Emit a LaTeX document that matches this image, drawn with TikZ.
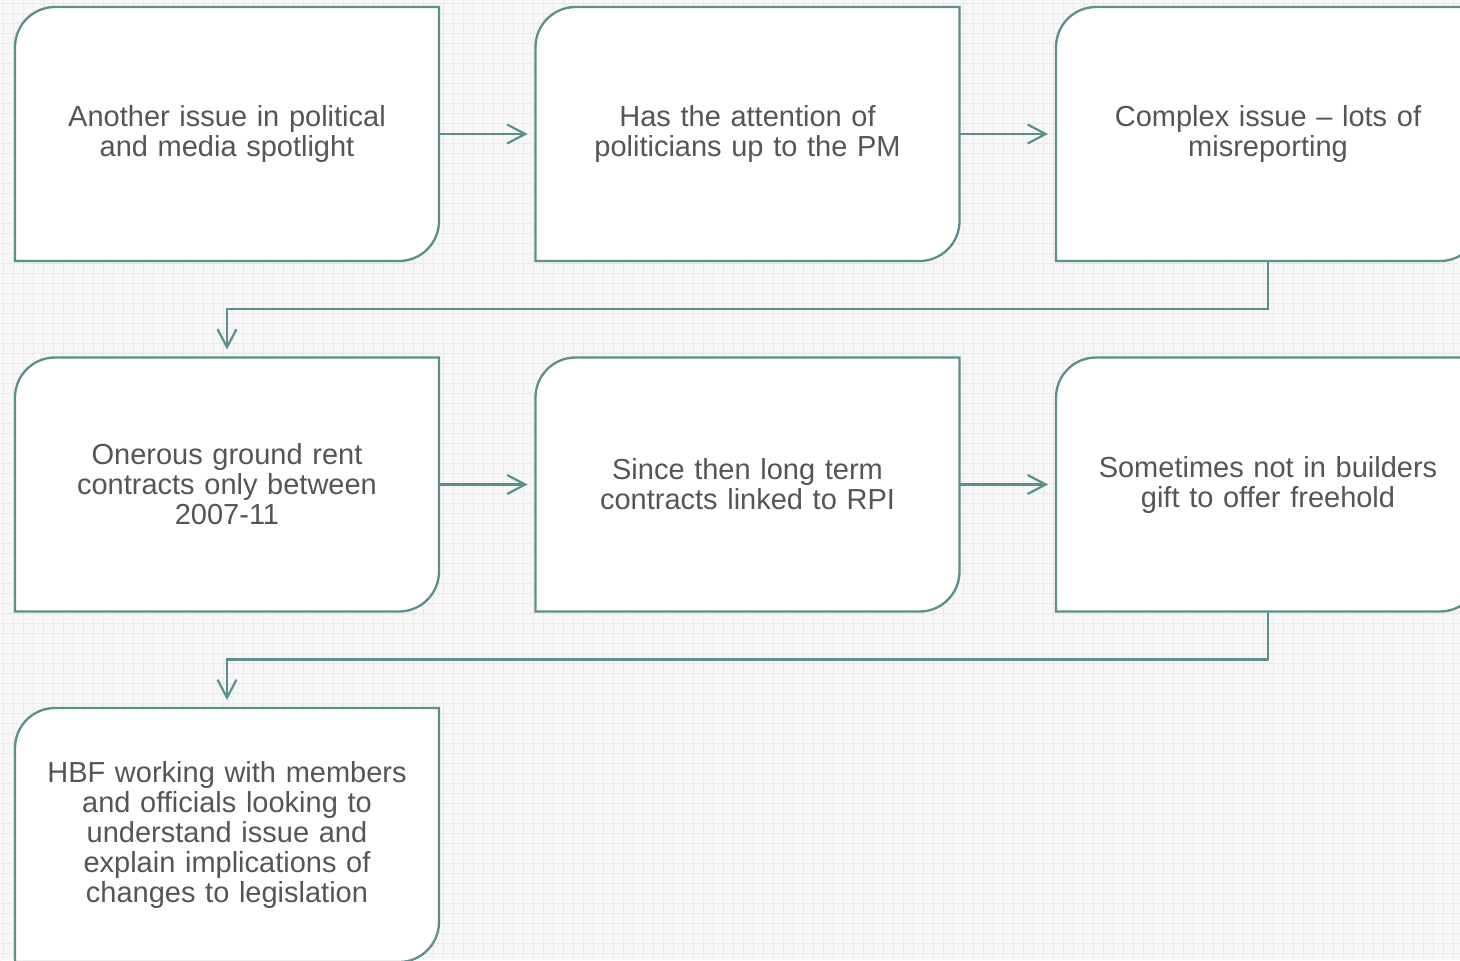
\documentclass[tikz,border=0pt]{standalone}
\usepackage{fontspec}
\setmainfont{Liberation Sans}
\usetikzlibrary{arrows.meta,positioning}
\pgfdeclarelayer{grid}
\pgfdeclarelayer{background}
\pgfsetlayers{grid,background,main}

\definecolor{tealline}{HTML}{5A908B}
\definecolor{textgray}{HTML}{555555}
\definecolor{gridbg}{HTML}{F7F7F7}
\definecolor{gridline}{HTML}{E9E9E9}

\tikzset{
  stepbox/.style={rectangle, minimum width=212pt, minimum height=127pt, inner sep=0pt,
    outer sep=0pt, text width=185pt, align=center, text=textgray,
    font=\fontsize{14.5}{15}\selectfont},
  boxline/.style={draw=tealline, line width=1.15pt, fill=white},
  flow/.style={draw=tealline, line width=1.1pt, shorten >=4pt,
    -{Straight Barb[length=9pt,width=9.5pt,line width=1.1pt]}}
}

\begin{document}
\hyphenpenalty=10000
\exhyphenpenalty=10000
\begin{tikzpicture}[x=0.5pt,y=-0.5pt,node distance=48.25pt]
\useasboundingbox (0,0) rectangle (1460,960);
\clip (0,0) rectangle (1460,960);

% squared paper
\begin{pgfonlayer}{grid}
  \fill[gridbg] (0,0) rectangle (1460,960);
  \foreach \gx in {3,13,...,1460} \draw[gridline, line width=0.5pt] (\gx,0) -- (\gx,960);
  \foreach \gy in {3,13,...,960} \draw[gridline, line width=0.5pt] (0,\gy) -- (1460,\gy);
\end{pgfonlayer}

% steps
\node[stepbox] (issue) at (227,134) {Another issue in political and media spotlight};
\node[stepbox, right=of issue] (attention) {Has the attention of politicians up to the PM};
\node[stepbox, right=of attention] (complex) {Complex issue -- lots of\\ misreporting};
\node[stepbox, below=of issue] (onerous) {Onerous ground rent\\ contracts only between\\ 2007-11};
\node[stepbox, right=of onerous] (since) {Since then long term contracts linked to RPI};
\node[stepbox, right=of since] (sometimes) {Sometimes not in builders gift to offer freehold};
\node[stepbox, below=of onerous] (hbf) {HBF working with members and officials looking to understand issue and explain implications of changes to legislation};

% box outlines, round corners top left and bottom right
\begin{pgfonlayer}{background}
  \foreach \n in {issue,attention,complex,onerous,since,sometimes,hbf}
    \draw[boxline] (\n.south west) -- ([yshift=-20pt]\n.north west)
      arc[start angle=180, end angle=90, radius=20pt] -- (\n.north east)
      -- ([yshift=20pt]\n.south east)
      arc[start angle=0, end angle=-90, radius=20pt] -- cycle;
\end{pgfonlayer}

\draw[flow] (issue) -- (attention);
\draw[flow] (attention) -- (complex);
\draw[flow] (complex.south) -- ++(0,48) -| (onerous.north);
\draw[flow] (onerous) -- (since);
\draw[flow] (since) -- (sometimes);
\draw[flow] (sometimes.south) -- ++(0,48) -| (hbf.north);

\end{tikzpicture}
\end{document}
